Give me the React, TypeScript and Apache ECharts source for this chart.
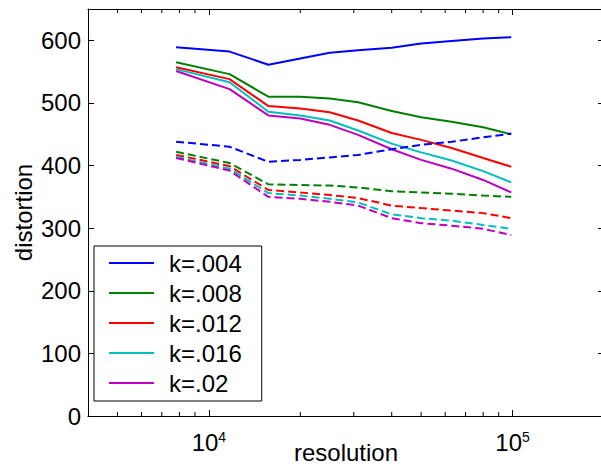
import React, { useEffect, useRef } from 'react';
import * as echarts from 'echarts';

const resolution = [7800, 11700, 15700, 20000, 25000, 31000, 40000, 50000, 63000, 80000, 99000];
const kLabels = ['k=.004', 'k=.008', 'k=.012', 'k=.016', 'k=.02'];
const colors = ['#0000ff', '#008000', '#ff0000', '#00bfbf', '#bf00bf'];

// solid lines
const solid004 = [589, 582, 561, 571, 580, 584, 588, 595, 599, 603, 605];
const solid008 = [565, 546, 510, 510, 507, 501, 487, 477, 470, 461, 450];
const solid012 = [557, 538, 495, 491, 485, 472, 452, 441, 428, 412, 398];
const solid016 = [554, 533, 486, 480, 472, 456, 435, 421, 408, 391, 373];
const solid02 = [551, 522, 480, 475, 465, 449, 426, 409, 395, 377, 357];

// dashed lines
const dashed004 = [438, 430, 406, 409, 413, 417, 426, 433, 438, 445, 451];
const dashed008 = [422, 404, 370, 369, 368, 365, 359, 357, 355, 352, 350];
const dashed012 = [417, 399, 361, 357, 353, 348, 336, 332, 328, 324, 316];
const dashed016 = [414, 395, 356, 352, 347, 341, 322, 316, 312, 305, 299];
const dashed02 = [412, 392, 350, 347, 342, 336, 316, 308, 304, 299, 289];

const minorTicks = [5000, 6000, 7000, 8000, 9000, 20000, 30000, 40000, 50000, 60000, 70000, 80000, 90000];

const solidSets = [solid004, solid008, solid012, solid016, solid02];
const dashedSets = [dashed004, dashed008, dashed012, dashed016, dashed02];

const FONT = '"Liberation Sans", Arial, sans-serif';
const X_MIN = 4000;
const X_MAX = 200000;
const Y_MAX = 650;

export default function App() {
  const ref = useRef<HTMLDivElement>(null);
  useEffect(() => {
    if (!ref.current) return;
    const chart = echarts.init(ref.current, undefined, { renderer: 'svg' });

    const series: any[] = [];
    solidSets.forEach((vals, i) => {
      series.push({
        name: kLabels[i],
        type: 'line',
        data: resolution.map((r, j) => [r, vals[j]]),
        symbol: 'none',
        lineStyle: { color: colors[i], width: 2, type: 'solid' },
        itemStyle: { color: colors[i] },
        z: 3,
      });
    });
    dashedSets.forEach((vals, i) => {
      series.push({
        name: kLabels[i] + ' dashed',
        type: 'line',
        data: resolution.map((r, j) => [r, vals[j]]),
        symbol: 'none',
        lineStyle: { color: colors[i], width: 2, type: [8, 4] },
        itemStyle: { color: colors[i] },
        z: 3,
      });
    });
    series.push({
      type: 'custom',
      name: 'minor',
      silent: true,
      clip: false,
      z: 5,
      data: minorTicks.map((v) => [v, 0]),
      renderItem: (_params: any, api: any) => {
        const x = api.value(0);
        const b = api.coord([x, 0]);
        const t = api.coord([x, Y_MAX]);
        return {
          type: 'group',
          children: [
            { type: 'line', shape: { x1: b[0], y1: b[1], x2: b[0], y2: b[1] - 4 }, style: { stroke: '#000', lineWidth: 1 } },
            { type: 'line', shape: { x1: t[0], y1: t[1], x2: t[0], y2: t[1] + 4 }, style: { stroke: '#000', lineWidth: 1 } },
          ],
        };
      },
    });

    const logLabel = (v: number) => {
      const l = Math.log10(v);
      const e = Math.round(l);
      return Math.abs(l - e) < 1e-6 ? `{b|10}{sup|${e}}` : '';
    };

    const axisLine = { show: true, onZero: false, lineStyle: { color: '#000', width: 1 } };

    chart.setOption({
      animation: false,
      backgroundColor: '#fff',
      grid: { left: 88, top: 9, width: 516, height: 407, containLabel: false, outerBoundsMode: 'none' },
      legend: {
        data: kLabels,
        orient: 'vertical',
        left: 94,
        top: 246,
        itemWidth: 45,
        itemHeight: 24,
        itemGap: 6,
        padding: [5, 20, 6, 14],
        borderColor: '#000',
        borderWidth: 1,
        backgroundColor: '#fff',
        selectedMode: false,
        itemStyle: { opacity: 0 },
        textStyle: { fontSize: 24, fontFamily: FONT, color: '#000', lineHeight: 24, padding: [0, 0, 0, 10] },
      },
      xAxis: [
        {
          type: 'log',
          min: X_MIN,
          max: X_MAX,
          position: 'bottom',
          name: 'resolution',
          nameLocation: 'middle',
          nameGap: 24,
          nameMoveOverlap: false,
          nameTextStyle: { fontSize: 24, fontFamily: FONT, color: '#000', lineHeight: 24 },
          axisLine,
          axisTick: { show: true, inside: true, length: 6, lineStyle: { color: '#000' } },
          splitLine: { show: false },
          axisLabel: {
            margin: 14,
            color: '#000',
            fontFamily: FONT,
            formatter: logLabel,
            rich: {
              b: { fontSize: 24, fontFamily: FONT, color: '#000', lineHeight: 24 },
              sup: { fontSize: 14, fontFamily: FONT, color: '#000', lineHeight: 14, verticalAlign: 'top' },
            },
          },
        },
        {
          type: 'log',
          min: X_MIN,
          max: X_MAX,
          position: 'top',
          axisLine,
          axisTick: { show: true, inside: true, length: 6, lineStyle: { color: '#000' } },
          splitLine: { show: false },
          axisLabel: { show: false },
        },
      ],
      yAxis: [
        {
          type: 'value',
          min: 0,
          max: Y_MAX,
          interval: 100,
          position: 'left',
          name: 'distortion',
          nameLocation: 'middle',
          nameGap: 53,
          nameMoveOverlap: false,
          nameTextStyle: { fontSize: 24, fontFamily: FONT, color: '#000', lineHeight: 24 },
          axisLine,
          axisTick: { show: true, inside: true, length: 6, lineStyle: { color: '#000' } },
          splitLine: { show: false },
          axisLabel: {
            margin: 7,
            fontSize: 24,
            fontFamily: FONT,
            color: '#000',
            formatter: (v: number) => (v > 600 ? '' : String(v)),
          },
        },
        {
          type: 'value',
          min: 0,
          max: Y_MAX,
          interval: 100,
          position: 'right',
          axisLine,
          axisTick: { show: true, inside: true, length: 6, lineStyle: { color: '#000' } },
          splitLine: { show: false },
          axisLabel: { show: false },
        },
      ],
      series,
    });

    return () => chart.dispose();
  }, []);

  return <div ref={ref} style={{ position: 'fixed', left: 0, top: 0, width: 601, height: 465 }} />;
}
